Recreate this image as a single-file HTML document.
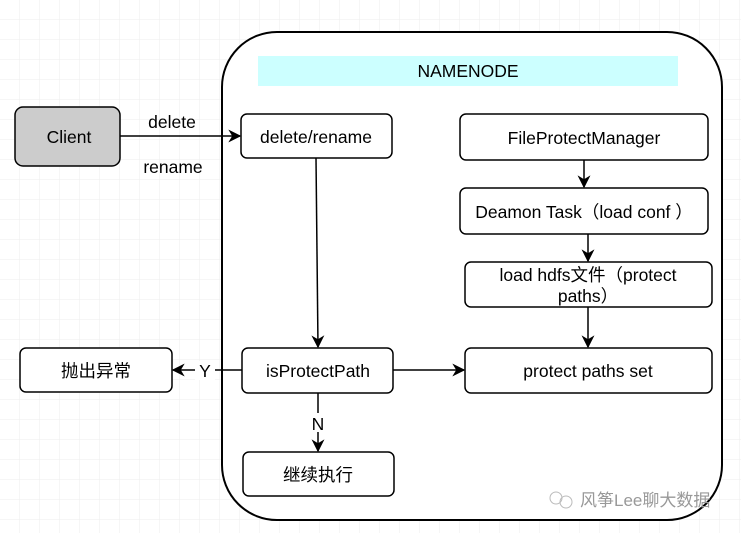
<!DOCTYPE html>
<html><head><meta charset="utf-8"><style>
html,body{margin:0;padding:0;background:#fff}
svg{display:block}
text{font-family:"Liberation Sans","Noto Sans CJK SC",sans-serif;font-size:17.5px;fill:#000}
</style></head><body>
<svg width="741" height="533" viewBox="0 0 741 533">
<defs>
<pattern id="g" width="20" height="20" patternUnits="userSpaceOnUse"><path d="M20 0V20M0 20H20" fill="none" stroke="#eeeeee" stroke-width="1"/></pattern>
<marker id="a" viewBox="0 0 10 10" refX="9" refY="5" markerWidth="13" markerHeight="13" markerUnits="userSpaceOnUse" orient="auto"><path d="M0 0L10 5L0 10L3 5Z" fill="#000"/></marker>
</defs>
<rect width="741" height="533" fill="url(#g)"/>
<rect x="222" y="32" width="500" height="488" rx="55" fill="#fff" stroke="#000" stroke-width="2"/>
<rect x="258" y="56" width="420" height="30" fill="#ccffff"/>
<text x="468" y="77" text-anchor="middle">NAMENODE</text>
<g stroke="#000" stroke-width="1.5">
<rect x="15" y="107" width="105" height="59" rx="8" fill="#cccccc"/>
<rect x="241" y="114" width="151" height="44" rx="6" fill="#fff"/>
<rect x="460" y="114" width="248" height="46" rx="6" fill="#fff"/>
<rect x="460" y="188" width="248" height="46" rx="6" fill="#fff"/>
<rect x="465" y="262" width="247" height="45" rx="6" fill="#fff"/>
<rect x="242" y="348" width="151" height="45" rx="6" fill="#fff"/>
<rect x="465" y="348" width="247" height="45" rx="6" fill="#fff"/>
<rect x="20" y="348" width="152" height="44" rx="6" fill="#fff"/>
<rect x="243" y="452" width="151" height="44" rx="6" fill="#fff"/>
<g fill="none" marker-end="url(#a)">
<path d="M120 136H240"/>
<path d="M316 158L318 347"/>
<path d="M584 160V187"/>
<path d="M588 234V261"/>
<path d="M588 307V347"/>
<path d="M393 370H464"/>
<path d="M242 370H173"/>
<path d="M318 393V451"/>
</g>
</g>
<rect x="195" y="361" width="20" height="19" fill="#fff"/>
<text x="205" y="377" text-anchor="middle">Y</text>
<rect x="309" y="413" width="18" height="19" fill="#fff"/>
<text x="318" y="430" text-anchor="middle">N</text>
<text x="69" y="143" text-anchor="middle">Client</text>
<text x="172" y="128" text-anchor="middle">delete</text>
<text x="173" y="173" text-anchor="middle">rename</text>
<text x="316" y="143" text-anchor="middle">delete/rename</text>
<text x="584" y="144" text-anchor="middle">FileProtectManager</text>
<text x="584" y="218" text-anchor="middle">Deamon Task（load conf ）</text>
<text x="588" y="281" text-anchor="middle">load hdfs文件（protect</text>
<text x="588" y="302" text-anchor="middle">paths）</text>
<text x="318" y="377" text-anchor="middle">isProtectPath</text>
<text x="588" y="377" text-anchor="middle">protect paths set</text>
<text x="96" y="377" text-anchor="middle">抛出异常</text>
<text x="318" y="481" text-anchor="middle">继续执行</text>
<circle cx="556" cy="498" r="6" fill="none" stroke="#bbb"/>
<circle cx="566" cy="502" r="6" fill="none" stroke="#bbb"/>
<text x="580" y="506" style="font-size:17px;fill:#999">风筝Lee聊大数据</text>
</svg>
</body></html>
